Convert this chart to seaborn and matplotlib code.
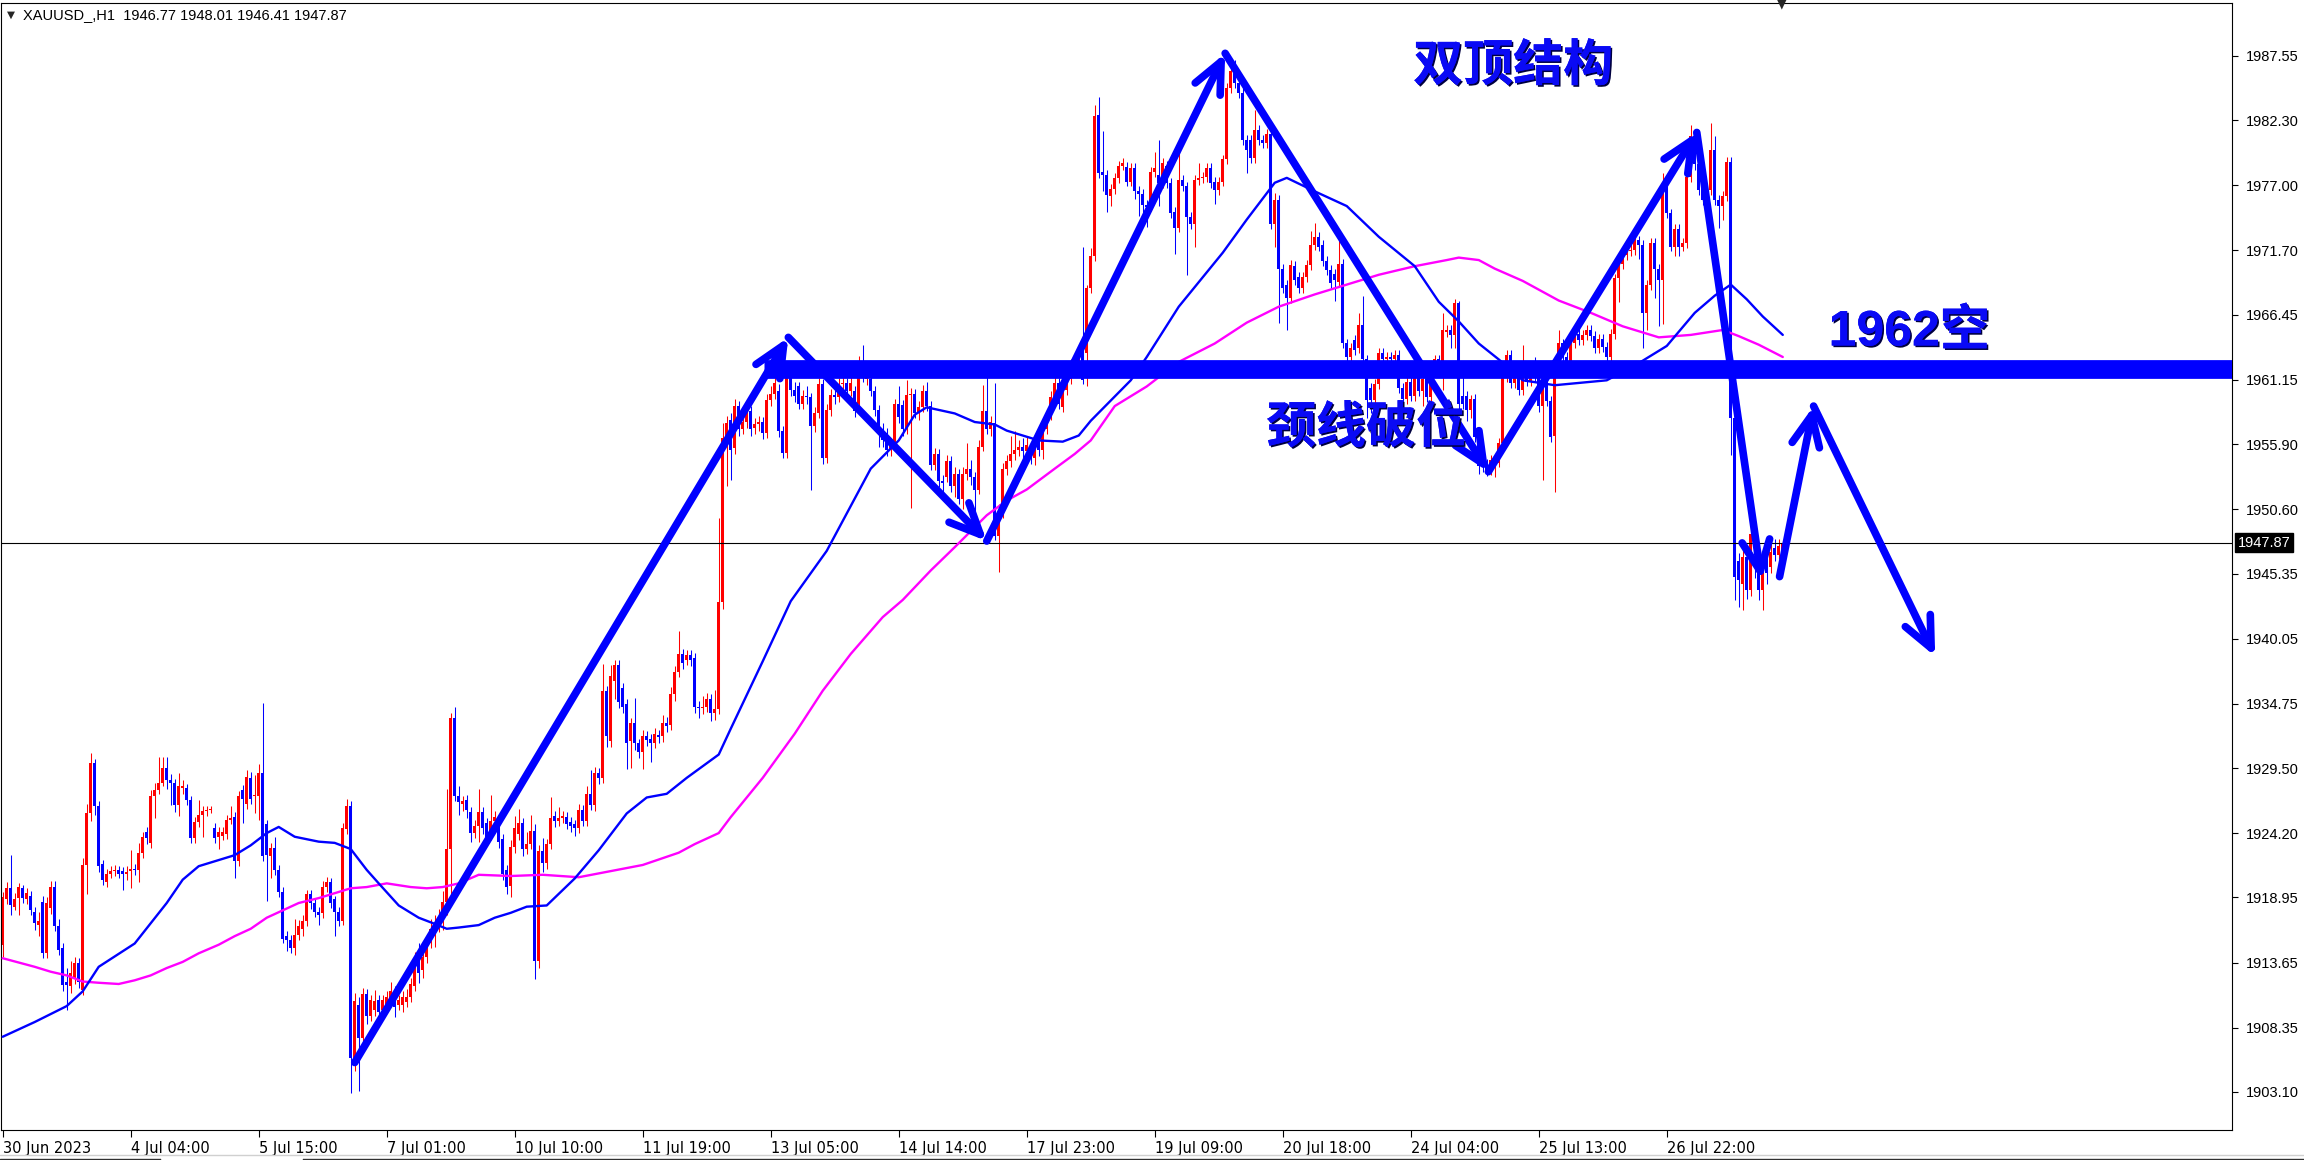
import numpy as np
import pandas as pd
import matplotlib
matplotlib.use("Agg")
from matplotlib import pyplot as plt
from matplotlib.lines import Line2D
import matplotlib.patheffects as pe
import seaborn as sns

sns.set_theme(style="white")
plt.rcParams["font.family"] = ["Liberation Sans", "DejaVu Sans", "Noto Sans CJK SC"]

# ---- XAUUSD H1 candles, bar index 0 = 30 Jun 2023 ----
opens = [
    1915.1, 1918.8, 1919.7, 1918.2, 1918.9, 1919.7, 1918.8, 1919.1, 1917.8, 1916.7,
    1918.6, 1914.4, 1918.1, 1919.8, 1916.6, 1914.8, 1912.1, 1911.7, 1912.4, 1913.6,
    1911.4, 1921.6, 1925.8, 1929.9, 1926.4, 1921.7, 1920.2, 1920.9, 1921.1, 1921.2,
    1921.1, 1920.9, 1921.1, 1921.3, 1921.2, 1922.6, 1924.3, 1923.4, 1927.2, 1927.7,
    1928.3, 1929.5, 1928.5, 1928.3, 1926.5, 1927.9, 1927.9, 1926.9, 1923.8, 1925.1,
    1925.7, 1926.0, 1926.1, 1924.6, 1923.9, 1924.0, 1924.1, 1925.3, 1925.5, 1921.9,
    1927.7, 1926.6, 1928.7, 1927.2, 1927.2, 1929.1, 1924.9, 1922.3, 1923.0, 1921.2,
    1919.4, 1915.8, 1915.5, 1914.8, 1915.9, 1916.4, 1917.0, 1919.2, 1918.5, 1917.8,
    1917.7, 1919.8, 1920.2, 1918.8, 1917.8, 1917.0, 1924.5, 1926.4, 1905.9, 1910.2,
    1907.5, 1911.1, 1909.3, 1909.8, 1910.6, 1909.8, 1910.0, 1910.6, 1911.3, 1910.2,
    1910.2, 1910.4, 1910.8, 1911.7, 1913.9, 1913.0, 1914.1, 1915.2, 1916.0, 1916.6,
    1917.5, 1918.6, 1922.9, 1933.6, 1927.2, 1926.6, 1926.9, 1925.9, 1924.2, 1924.8,
    1925.9, 1925.0, 1924.1, 1925.2, 1925.0, 1923.7, 1921.2, 1919.9, 1923.1, 1924.1,
    1925.0, 1922.9, 1923.3, 1924.4, 1913.8, 1922.7, 1921.8, 1923.3, 1925.6, 1925.2,
    1925.4, 1925.5, 1925.1, 1924.9, 1924.6, 1926.1, 1925.2, 1927.4, 1926.5, 1929.1,
    1928.7, 1935.8, 1931.7, 1936.6, 1937.9, 1936.0, 1934.7, 1931.7, 1933.2, 1931.5,
    1930.8, 1932.1, 1931.9, 1931.5, 1932.2, 1932.1, 1933.2, 1933.0, 1935.5, 1937.3,
    1938.8, 1938.3, 1938.7, 1938.5, 1934.5, 1934.4, 1934.5, 1935.1, 1934.0, 1934.3,
    1943.0, 1956.4, 1957.9, 1955.6, 1959.0, 1957.1, 1957.7, 1958.6, 1957.2, 1957.5,
    1957.7, 1956.8, 1959.5, 1960.0, 1960.2, 1957.0, 1955.2, 1961.5, 1960.3, 1960.6,
    1959.2, 1959.8, 1959.7, 1957.4, 1958.4, 1960.8, 1954.8, 1958.7, 1959.9, 1959.7,
    1960.8, 1960.9, 1960.2, 1960.2, 1959.2, 1962.7, 1961.2, 1961.2, 1960.2, 1958.7,
    1957.1, 1956.8, 1955.4, 1956.0, 1959.2, 1959.1, 1957.1, 1959.9, 1960.0, 1958.4,
    1958.9, 1960.2, 1959.0, 1954.2, 1955.1, 1952.9, 1953.2, 1954.5, 1952.5, 1953.5,
    1951.4, 1953.5, 1953.9, 1953.2, 1952.2, 1955.7, 1958.6, 1957.1, 1957.6, 1948.4,
    1950.4, 1953.9, 1954.5, 1955.1, 1955.4, 1955.7, 1955.3, 1955.5, 1954.8, 1956.8,
    1955.4, 1957.1, 1958.3, 1959.7, 1960.9, 1958.9, 1960.3, 1961.2, 1962.1, 1962.4,
    1964.4, 1963.3, 1968.6, 1971.2, 1982.7, 1978.1, 1977.8, 1976.1, 1976.7, 1977.6,
    1978.6, 1978.5, 1977.3, 1978.4, 1976.5, 1976.3, 1975.4, 1975.3, 1978.1, 1977.8,
    1977.2, 1978.6, 1977.2, 1974.8, 1973.5, 1977.4, 1976.9, 1974.4, 1973.8, 1977.4,
    1977.6, 1977.7, 1978.4, 1977.3, 1976.6, 1977.3, 1979.1, 1984.9, 1986.3, 1985.3,
    1984.5, 1980.7, 1980.7, 1979.2, 1981.5, 1980.7, 1980.4, 1981.2, 1973.8, 1975.8,
    1970.2, 1968.9, 1967.8, 1970.4, 1969.5, 1968.6, 1969.5, 1970.5, 1972.1, 1972.8,
    1972.1, 1970.8, 1970.1, 1969.8, 1969.1, 1970.6, 1964.1, 1963.0, 1964.4, 1963.7,
    1965.6, 1962.8, 1960.5, 1959.5, 1960.8, 1963.3, 1962.8, 1963.0, 1962.8, 1963.2,
    1960.5, 1959.6, 1961.0, 1959.8, 1961.5, 1960.2, 1961.2, 1959.7, 1962.0, 1962.8,
    1962.3, 1965.0, 1965.2, 1964.8, 1967.4, 1959.8, 1959.8, 1958.7, 1959.6, 1956.5,
    1954.5, 1954.3, 1953.8, 1954.0, 1954.4, 1956.0, 1961.4, 1963.2, 1960.9, 1961.7,
    1960.3, 1962.1, 1961.0, 1962.1, 1961.4, 1959.0, 1960.7, 1959.4, 1956.6, 1962.5,
    1964.1, 1963.0, 1962.5, 1964.1, 1964.9, 1964.4, 1964.8, 1965.2, 1964.7, 1963.7,
    1964.5, 1963.8, 1963.0, 1964.9, 1969.4, 1970.6, 1971.3, 1971.6, 1971.7, 1972.5,
    1972.1, 1966.6, 1968.9, 1972.3, 1970.2, 1969.3, 1977.0, 1974.7, 1972.0, 1973.4,
    1972.0, 1972.3, 1977.7, 1981.0, 1978.7, 1976.8, 1975.8, 1976.6, 1979.9, 1975.8,
    1975.3, 1976.1, 1978.9, 1958.0, 1946.4, 1944.5, 1946.7, 1944.0, 1946.7, 1945.9,
    1944.0, 1947.0, 1945.9, 1947.4, 1946.9, 1946.77,
]
highs = [
    1919.4, 1920.2, 1922.4, 1919.3, 1920.1, 1920.0, 1919.7, 1919.5, 1918.2, 1917.8,
    1919.1, 1919.0, 1920.3, 1920.3, 1917.2, 1915.2, 1913.2, 1913.8, 1914.1, 1914.0,
    1922.2, 1926.6, 1930.7, 1930.2, 1926.8, 1922.0, 1921.3, 1921.5, 1921.6, 1921.5,
    1921.4, 1921.5, 1922.8, 1921.7, 1923.4, 1924.3, 1924.7, 1927.7, 1928.3, 1930.4,
    1930.4, 1930.4, 1929.0, 1928.6, 1929.1, 1928.5, 1928.2, 1927.2, 1925.5, 1926.9,
    1926.4, 1926.4, 1926.4, 1925.0, 1924.7, 1924.7, 1925.7, 1926.4, 1925.9, 1927.6,
    1928.1, 1929.3, 1929.2, 1928.9, 1929.8, 1934.8, 1925.3, 1923.4, 1923.9, 1921.6,
    1919.8, 1916.2, 1915.9, 1917.2, 1917.1, 1917.5, 1919.6, 1919.6, 1918.9, 1918.2,
    1920.3, 1920.6, 1920.5, 1919.1, 1918.2, 1925.0, 1927.0, 1926.8, 1911.2, 1910.8,
    1911.6, 1911.5, 1911.0, 1911.4, 1911.0, 1911.0, 1911.3, 1912.1, 1911.7, 1911.0,
    1911.3, 1911.5, 1912.4, 1914.5, 1915.2, 1914.6, 1915.8, 1917.2, 1917.5, 1918.0,
    1919.5, 1927.8, 1934.0, 1934.5, 1928.0, 1927.2, 1927.3, 1926.3, 1925.3, 1927.8,
    1926.3, 1925.4, 1927.3, 1926.0, 1925.4, 1924.1, 1921.6, 1923.6, 1925.6, 1926.2,
    1925.4, 1924.3, 1925.7, 1924.9, 1923.2, 1923.8, 1923.7, 1927.1, 1926.0, 1926.3,
    1926.0, 1925.9, 1925.5, 1925.3, 1926.6, 1926.5, 1928.0, 1929.3, 1929.6, 1929.5,
    1938.0, 1936.2, 1937.9, 1938.3, 1938.3, 1936.4, 1935.1, 1933.6, 1935.2, 1931.9,
    1932.6, 1932.5, 1932.3, 1932.8, 1932.6, 1933.8, 1933.7, 1936.1, 1937.8, 1940.7,
    1939.2, 1939.1, 1939.1, 1938.9, 1935.0, 1935.4, 1935.6, 1935.5, 1935.9, 1949.9,
    1957.6, 1958.2, 1958.4, 1959.6, 1959.4, 1958.2, 1959.2, 1959.0, 1958.0, 1958.2,
    1958.1, 1960.0, 1960.6, 1963.2, 1960.8, 1957.4, 1962.0, 1961.9, 1961.0, 1961.0,
    1960.3, 1960.6, 1960.1, 1958.9, 1961.3, 1961.2, 1959.2, 1960.4, 1960.3, 1961.3,
    1961.6, 1961.3, 1961.4, 1960.6, 1963.1, 1964.0, 1962.0, 1961.6, 1960.6, 1959.1,
    1957.6, 1957.2, 1956.4, 1959.6, 1960.6, 1959.5, 1961.1, 1960.5, 1960.4, 1959.4,
    1960.7, 1961.0, 1959.4, 1955.6, 1955.5, 1953.4, 1955.0, 1954.9, 1954.0, 1953.9,
    1954.0, 1956.0, 1954.6, 1953.6, 1956.2, 1960.7, 1961.6, 1958.2, 1960.9, 1951.0,
    1954.4, 1955.0, 1956.6, 1957.0, 1956.2, 1956.4, 1956.6, 1956.1, 1955.8, 1957.2,
    1957.6, 1958.8, 1960.2, 1961.6, 1961.3, 1960.8, 1962.0, 1962.8, 1963.2, 1963.8,
    1972.0, 1968.9, 1971.9, 1983.5, 1984.2, 1981.4, 1978.2, 1977.1, 1978.0, 1979.0,
    1979.2, 1978.9, 1978.8, 1978.8, 1976.9, 1976.7, 1975.8, 1978.5, 1979.7, 1980.7,
    1979.2, 1979.0, 1977.6, 1975.2, 1979.8, 1977.8, 1977.3, 1974.8, 1977.8, 1978.8,
    1978.1, 1978.8, 1978.8, 1977.7, 1977.7, 1979.5, 1985.3, 1986.7, 1987.2, 1985.7,
    1984.9, 1981.1, 1981.1, 1983.1, 1981.9, 1981.1, 1981.6, 1981.6, 1976.4, 1976.2,
    1970.6, 1969.3, 1970.9, 1970.8, 1969.9, 1969.9, 1970.9, 1973.3, 1973.9, 1973.2,
    1972.5, 1971.2, 1970.5, 1970.2, 1972.5, 1971.0, 1964.5, 1964.1, 1964.8, 1966.6,
    1968.0, 1963.2, 1960.9, 1961.2, 1963.7, 1963.7, 1963.4, 1963.4, 1963.6, 1963.6,
    1960.9, 1961.4, 1961.4, 1961.9, 1961.9, 1961.6, 1961.6, 1962.4, 1963.2, 1963.2,
    1966.6, 1965.6, 1965.6, 1967.7, 1967.6, 1961.9, 1960.2, 1959.9, 1960.0, 1956.9,
    1955.5, 1954.7, 1955.0, 1954.8, 1956.4, 1961.8, 1963.6, 1963.6, 1962.1, 1962.1,
    1964.0, 1962.5, 1962.5, 1963.0, 1961.8, 1961.1, 1961.1, 1959.8, 1962.9, 1965.2,
    1964.5, 1963.4, 1964.5, 1965.3, 1965.3, 1965.2, 1965.6, 1965.6, 1965.1, 1964.9,
    1964.9, 1964.2, 1965.3, 1969.8, 1971.0, 1971.7, 1972.0, 1973.1, 1973.5, 1972.9,
    1972.5, 1969.3, 1972.7, 1972.7, 1970.6, 1978.0, 1977.4, 1975.1, 1973.8, 1973.8,
    1972.7, 1978.1, 1981.9, 1981.4, 1979.0, 1977.1, 1977.0, 1982.1, 1981.0, 1976.2,
    1976.5, 1979.3, 1979.3, 1958.4, 1947.0, 1947.5, 1947.2, 1949.6, 1947.5, 1946.2,
    1946.1, 1947.6, 1947.9, 1948.2, 1948.2, 1948.01,
]
lows = [
    1914.1, 1918.4, 1917.5, 1917.9, 1917.5, 1918.5, 1918.4, 1917.5, 1916.3, 1915.8,
    1914.0, 1914.0, 1917.6, 1916.2, 1914.3, 1911.3, 1909.8, 1911.2, 1911.9, 1911.6,
    1911.0, 1919.2, 1925.2, 1925.7, 1921.0, 1920.0, 1919.8, 1920.5, 1920.7, 1920.5,
    1919.6, 1920.4, 1919.7, 1920.8, 1920.2, 1922.2, 1923.3, 1923.0, 1925.4, 1927.4,
    1928.0, 1927.8, 1926.5, 1925.9, 1925.6, 1927.4, 1926.5, 1923.4, 1923.4, 1924.7,
    1923.9, 1925.6, 1925.8, 1923.4, 1922.9, 1923.6, 1923.7, 1924.9, 1920.5, 1921.5,
    1925.0, 1926.2, 1926.6, 1925.8, 1925.3, 1921.9, 1918.7, 1920.5, 1920.8, 1919.0,
    1915.2, 1914.6, 1914.4, 1914.3, 1915.5, 1915.8, 1916.6, 1918.0, 1917.4, 1916.7,
    1917.3, 1919.4, 1918.1, 1915.8, 1916.6, 1916.7, 1924.1, 1903.0, 1904.8, 1903.2,
    1906.8, 1908.6, 1908.9, 1909.3, 1909.2, 1909.4, 1909.6, 1910.2, 1909.2, 1909.8,
    1909.6, 1910.0, 1910.4, 1911.3, 1912.0, 1912.4, 1913.6, 1914.8, 1914.9, 1916.1,
    1916.3, 1917.5, 1918.5, 1926.8, 1925.7, 1926.0, 1925.4, 1923.5, 1923.8, 1923.5,
    1924.1, 1923.3, 1923.6, 1924.8, 1923.0, 1920.4, 1919.2, 1919.0, 1922.6, 1923.6,
    1922.3, 1922.5, 1922.9, 1912.3, 1913.2, 1921.0, 1921.3, 1922.9, 1924.7, 1924.8,
    1925.0, 1924.5, 1924.3, 1924.0, 1924.2, 1924.8, 1924.8, 1926.1, 1926.0, 1928.2,
    1928.3, 1931.2, 1931.2, 1935.1, 1934.4, 1934.0, 1929.4, 1929.5, 1931.0, 1930.3,
    1929.4, 1931.3, 1930.0, 1931.1, 1931.5, 1931.6, 1932.4, 1932.6, 1935.0, 1936.9,
    1937.6, 1937.9, 1937.8, 1934.0, 1933.6, 1933.9, 1934.1, 1933.3, 1933.4, 1933.9,
    1942.5, 1952.5, 1953.0, 1955.1, 1956.6, 1956.7, 1957.2, 1956.6, 1956.7, 1957.0,
    1956.3, 1956.4, 1959.0, 1959.6, 1956.5, 1954.8, 1954.8, 1959.8, 1959.3, 1958.8,
    1958.8, 1959.2, 1952.2, 1956.9, 1958.0, 1954.3, 1954.4, 1958.2, 1959.2, 1959.3,
    1960.3, 1959.8, 1959.8, 1958.1, 1958.8, 1961.0, 1960.7, 1959.8, 1958.2, 1955.7,
    1955.7, 1954.9, 1954.9, 1955.5, 1957.6, 1956.6, 1956.7, 1950.7, 1958.0, 1957.9,
    1958.5, 1958.6, 1953.8, 1953.8, 1952.4, 1952.0, 1952.8, 1952.0, 1951.6, 1951.0,
    1950.6, 1953.0, 1952.6, 1950.0, 1951.8, 1955.3, 1956.7, 1956.6, 1948.1, 1945.5,
    1949.9, 1953.4, 1954.0, 1954.6, 1954.9, 1954.8, 1954.8, 1954.3, 1954.2, 1954.9,
    1954.7, 1956.7, 1957.9, 1959.3, 1958.8, 1958.5, 1959.9, 1960.8, 1961.7, 1962.0,
    1960.8, 1960.6, 1968.2, 1970.8, 1977.6, 1976.5, 1974.8, 1975.3, 1976.3, 1977.2,
    1978.2, 1976.9, 1976.9, 1975.9, 1974.5, 1974.0, 1973.6, 1974.9, 1977.7, 1975.3,
    1976.8, 1976.8, 1974.3, 1971.4, 1973.2, 1976.5, 1969.7, 1973.4, 1972.0, 1977.0,
    1977.2, 1977.3, 1976.8, 1975.5, 1976.2, 1976.9, 1978.7, 1984.5, 1984.9, 1984.1,
    1980.3, 1978.0, 1978.8, 1978.8, 1980.3, 1980.0, 1980.0, 1973.4, 1972.0, 1965.8,
    1968.2, 1965.2, 1967.4, 1968.9, 1968.2, 1968.2, 1969.1, 1970.1, 1971.7, 1971.6,
    1970.4, 1969.7, 1968.6, 1967.6, 1968.7, 1963.7, 1962.6, 1962.6, 1963.2, 1963.3,
    1962.4, 1958.0, 1958.4, 1959.1, 1960.4, 1962.4, 1962.4, 1962.4, 1962.4, 1960.1,
    1958.9, 1959.2, 1959.4, 1959.4, 1959.8, 1959.0, 1959.3, 1959.3, 1961.6, 1961.9,
    1960.3, 1964.6, 1963.7, 1963.7, 1958.8, 1958.8, 1957.8, 1958.0, 1956.1, 1953.5,
    1953.6, 1953.3, 1953.4, 1953.2, 1954.0, 1955.6, 1961.0, 1960.5, 1960.5, 1959.9,
    1959.9, 1960.6, 1960.6, 1961.0, 1958.5, 1953.0, 1959.0, 1956.1, 1952.0, 1962.1,
    1962.6, 1962.1, 1962.1, 1963.7, 1964.0, 1964.0, 1964.4, 1964.3, 1963.3, 1963.3,
    1963.4, 1962.6, 1962.6, 1964.5, 1967.5, 1970.2, 1970.9, 1971.2, 1971.3, 1971.0,
    1963.7, 1965.2, 1968.5, 1967.8, 1965.5, 1965.7, 1974.3, 1971.6, 1971.2, 1971.2,
    1971.6, 1971.9, 1977.3, 1978.2, 1976.2, 1975.4, 1975.4, 1976.2, 1975.4, 1973.5,
    1974.2, 1975.7, 1955.0, 1943.2, 1942.6, 1942.4, 1943.3, 1943.5, 1945.0, 1943.2,
    1942.4, 1944.5, 1945.4, 1946.4, 1946.5, 1946.41,
]
closes = [
    1919.0, 1919.7, 1918.3, 1918.8, 1919.8, 1918.9, 1919.3, 1917.9, 1916.9, 1917.0,
    1914.4, 1918.5, 1919.8, 1916.6, 1914.7, 1911.8, 1911.8, 1912.8, 1913.6, 1912.1,
    1921.6, 1925.8, 1929.9, 1926.4, 1921.5, 1920.4, 1920.9, 1921.1, 1921.2, 1920.9,
    1920.9, 1921.0, 1921.3, 1921.2, 1922.6, 1923.9, 1923.8, 1927.2, 1927.7, 1928.3,
    1929.5, 1928.5, 1928.3, 1926.5, 1928.0, 1928.0, 1926.9, 1923.8, 1925.1, 1925.7,
    1926.0, 1926.1, 1926.2, 1923.8, 1924.3, 1924.3, 1925.3, 1925.4, 1921.9, 1927.2,
    1927.0, 1928.8, 1927.0, 1927.3, 1929.1, 1922.3, 1922.4, 1923.0, 1921.2, 1919.4,
    1915.6, 1915.5, 1914.8, 1915.9, 1916.6, 1917.0, 1919.2, 1918.5, 1917.8, 1917.5,
    1919.8, 1920.2, 1918.5, 1917.8, 1917.0, 1924.6, 1926.4, 1905.9, 1910.5, 1907.5,
    1911.1, 1909.3, 1910.6, 1910.5, 1909.6, 1910.6, 1910.8, 1911.3, 1910.0, 1910.6,
    1910.8, 1910.8, 1911.9, 1913.9, 1912.8, 1914.1, 1914.9, 1916.4, 1916.8, 1917.3,
    1918.6, 1922.9, 1933.6, 1927.2, 1926.7, 1926.8, 1926.1, 1924.2, 1924.8, 1925.9,
    1924.6, 1923.9, 1925.2, 1925.5, 1923.5, 1920.9, 1919.8, 1923.1, 1924.6, 1925.0,
    1922.9, 1923.3, 1924.4, 1913.8, 1922.7, 1921.8, 1923.3, 1925.4, 1925.2, 1925.4,
    1925.6, 1924.9, 1924.8, 1924.6, 1926.1, 1925.2, 1927.4, 1926.5, 1929.1, 1928.7,
    1935.8, 1932.1, 1937.0, 1937.9, 1934.9, 1934.5, 1931.5, 1933.2, 1931.5, 1930.8,
    1932.1, 1931.8, 1931.5, 1932.3, 1932.0, 1933.2, 1932.9, 1935.5, 1937.3, 1938.8,
    1938.1, 1938.7, 1938.3, 1934.5, 1934.4, 1934.5, 1935.1, 1934.0, 1934.3, 1943.0,
    1956.4, 1957.6, 1955.4, 1959.0, 1957.1, 1957.7, 1958.6, 1957.1, 1957.5, 1957.7,
    1956.8, 1959.5, 1960.0, 1960.9, 1957.0, 1955.2, 1961.5, 1960.3, 1959.8, 1959.2,
    1959.8, 1959.7, 1957.4, 1958.4, 1960.8, 1954.8, 1958.7, 1959.9, 1959.7, 1960.8,
    1960.9, 1960.2, 1960.9, 1958.6, 1962.7, 1961.5, 1961.5, 1960.2, 1958.7, 1957.1,
    1956.2, 1955.4, 1956.0, 1959.2, 1958.1, 1957.1, 1959.9, 1960.0, 1958.4, 1958.9,
    1960.2, 1959.0, 1954.2, 1955.1, 1952.9, 1952.7, 1954.5, 1952.5, 1953.5, 1951.4,
    1953.5, 1953.9, 1953.2, 1952.2, 1955.7, 1958.6, 1957.1, 1957.7, 1948.4, 1950.4,
    1953.9, 1954.5, 1955.1, 1955.4, 1955.7, 1955.3, 1955.8, 1954.8, 1955.3, 1955.4,
    1957.1, 1958.3, 1959.7, 1960.9, 1959.2, 1960.3, 1961.5, 1962.1, 1962.7, 1963.2,
    1961.1, 1968.6, 1971.2, 1982.6, 1978.0, 1977.8, 1976.2, 1976.7, 1977.6, 1978.6,
    1978.8, 1977.3, 1978.4, 1976.5, 1976.3, 1975.4, 1975.2, 1978.1, 1978.4, 1977.2,
    1978.8, 1977.2, 1974.7, 1973.5, 1977.4, 1976.9, 1974.4, 1973.8, 1977.4, 1977.6,
    1977.7, 1978.4, 1977.2, 1976.6, 1977.3, 1979.1, 1984.9, 1986.3, 1985.3, 1984.5,
    1980.7, 1979.9, 1979.2, 1981.5, 1980.7, 1980.4, 1981.2, 1973.8, 1975.8, 1970.2,
    1968.6, 1967.8, 1970.5, 1969.3, 1968.6, 1969.5, 1970.5, 1972.1, 1972.8, 1972.0,
    1970.8, 1970.1, 1969.0, 1969.3, 1970.6, 1964.1, 1963.0, 1963.7, 1963.6, 1965.6,
    1962.8, 1959.5, 1959.5, 1960.8, 1963.3, 1962.8, 1963.0, 1962.8, 1963.2, 1960.5,
    1959.6, 1961.0, 1959.8, 1961.5, 1960.2, 1961.2, 1959.7, 1962.0, 1962.8, 1962.3,
    1965.2, 1965.2, 1964.8, 1967.4, 1959.2, 1959.2, 1958.7, 1959.6, 1956.5, 1954.1,
    1954.0, 1953.8, 1954.6, 1954.4, 1956.0, 1961.4, 1963.2, 1960.9, 1961.7, 1960.3,
    1962.1, 1961.0, 1962.1, 1961.4, 1959.0, 1960.7, 1959.4, 1956.5, 1962.5, 1964.1,
    1963.0, 1962.5, 1964.1, 1964.9, 1964.4, 1964.8, 1965.2, 1964.7, 1963.7, 1964.5,
    1963.8, 1963.0, 1964.9, 1969.4, 1970.6, 1971.3, 1971.6, 1971.7, 1972.5, 1972.1,
    1966.6, 1968.9, 1972.3, 1970.2, 1969.3, 1977.0, 1974.7, 1972.0, 1973.4, 1972.0,
    1972.3, 1977.7, 1981.0, 1978.7, 1976.6, 1975.8, 1976.6, 1979.9, 1975.8, 1975.3,
    1976.1, 1978.9, 1958.0, 1945.1, 1944.8, 1946.7, 1944.0, 1948.6, 1945.9, 1944.0,
    1945.4, 1945.4, 1947.1, 1946.9, 1947.6, 1947.87,
]

# moving averages, read at knots along each curve
ma_fast_bar = [0, 8, 16, 20, 24, 33, 41, 45, 49, 54, 58, 62, 66, 69, 73, 79, 83, 87, 91, 94,
               99, 104, 108, 111, 114, 119, 123, 127, 131, 136, 143, 149, 156, 161, 166, 171,
               179, 182, 190, 197, 206, 217, 224, 228, 231, 238, 243, 248, 251, 254, 259, 265,
               269, 272, 282, 286, 294, 305, 311, 318, 321, 328, 336, 344, 353, 359, 364, 369,
               374, 380, 388, 401, 409, 416, 423, 428, 432, 436, 440, 445]
ma_fast_val = [1907.6, 1908.8, 1910.1, 1911.3, 1913.3, 1915.2, 1918.5, 1920.4, 1921.5, 1922.0,
               1922.4, 1923.2, 1924.2, 1924.7, 1923.9, 1923.5, 1923.4, 1922.9, 1921.2, 1920.1,
               1918.3, 1917.3, 1916.8, 1916.4, 1916.5, 1916.7, 1917.3, 1917.7, 1918.2, 1918.3,
               1920.5, 1922.8, 1925.8, 1927.1, 1927.4, 1928.7, 1930.6, 1932.7, 1938.2, 1943.1,
               1947.2, 1953.9, 1956.2, 1958.3, 1958.9, 1958.4, 1957.7, 1957.5, 1957.0, 1956.7,
               1956.2, 1956.1, 1956.6, 1957.8, 1961.1, 1963.0, 1967.1, 1971.5, 1974.2, 1977.2,
               1977.6, 1976.5, 1975.3, 1972.8, 1970.4, 1967.5, 1965.9, 1964.1, 1962.8, 1961.1,
               1960.7, 1961.1, 1962.5, 1963.9, 1966.6, 1968.0, 1968.9, 1967.7, 1966.3, 1964.8]
ma_slow_bar = [0, 8, 12, 16, 20, 24, 29, 33, 37, 41, 45, 49, 54, 58, 62, 66, 70, 74, 79, 83,
               87, 91, 96, 102, 106, 110, 114, 119, 127, 135, 144, 152, 160, 169, 173, 179,
               182, 190, 198, 205, 212, 220, 225, 232, 238, 246, 251, 256, 263, 268, 272, 278,
               286, 294, 303, 311, 319, 328, 336, 344, 353, 361, 364, 369, 373, 380, 389, 397,
               405, 414, 422, 430, 434, 439, 445]
ma_slow_val = [1914.0, 1913.3, 1912.9, 1912.6, 1912.1, 1912.0, 1911.9, 1912.2, 1912.6, 1913.2,
               1913.7, 1914.4, 1915.1, 1915.8, 1916.4, 1917.3, 1917.9, 1918.5, 1918.9, 1919.3,
               1919.7, 1919.8, 1920.1, 1919.8, 1919.7, 1919.8, 1920.1, 1920.8, 1920.7, 1920.8,
               1920.6, 1921.1, 1921.6, 1922.6, 1923.3, 1924.2, 1925.5, 1928.7, 1932.3, 1935.8,
               1938.8, 1941.8, 1943.2, 1945.6, 1947.5, 1950.1, 1951.3, 1952.2, 1953.9, 1955.1,
               1956.2, 1959.0, 1960.6, 1962.6, 1964.1, 1965.8, 1967.1, 1968.1, 1968.9, 1969.7,
               1970.4, 1970.9, 1971.1, 1970.9, 1970.2, 1969.2, 1967.6, 1966.6, 1965.5, 1964.6,
               1964.8, 1965.2, 1964.7, 1964.0, 1963.0]

# hand-drawn arrows (bar index, price)
arrow_from_bar = [88.0, 196.4, 246.0, 305.6, 371.4, 423.5, 444.2, 452.7]
arrow_from_px = [1905.5, 1964.6, 1948.0, 1987.75, 1953.65, 1981.3, 1945.1, 1959.0]
arrow_to_bar = [196.4, 246.0, 305.6, 371.4, 423.5, 439.7, 452.7, 483.1]
arrow_to_px = [1964.6, 1948.0, 1987.75, 1953.65, 1981.3, 1944.8, 1959.0, 1938.6]
neckline_px = 1962.0
neckline_start = 190.3
last_price = 1947.87

xtick_bars = [0, 32, 64, 96, 128, 160, 192, 224, 256, 288, 320, 352, 384, 416]
xtick_labels = ["30 Jun 2023", "4 Jul 04:00", "5 Jul 15:00", "7 Jul 01:00", "10 Jul 10:00",
                "11 Jul 19:00", "13 Jul 05:00", "14 Jul 14:00", "17 Jul 23:00", "19 Jul 09:00",
                "20 Jul 18:00", "24 Jul 04:00", "25 Jul 13:00", "26 Jul 22:00"]
ytick_vals = [1987.55, 1982.30, 1977.00, 1971.70, 1966.45, 1961.15, 1955.90, 1950.60, 1945.35,
              1940.05, 1934.75, 1929.50, 1924.20, 1918.95, 1913.65, 1908.35, 1903.10]

W, H = 2304, 1160
BLUE = "#0000ff"
RED = "#ff0000"
MAGENTA = "#ff00ff"


def fx(px):
    return px / W


def fy(py):
    return 1 - py / H


fig = plt.figure(figsize=(W / 100, H / 100), dpi=100)
fig.patch.set_facecolor("white")
ax = fig.add_axes([fx(1), fy(1130), fx(2232) - fx(1), fy(3) - fy(1130)])
ax.set_facecolor("white")

# candles
o = np.array(opens)
h = np.array(highs)
l = np.array(lows)
c = np.array(closes)
x = np.arange(len(c))
cols = np.where(c >= o, RED, BLUE)
ax.vlines(x, l, h, colors=cols, lw=0.75, zorder=2)
ax.bar(x, np.maximum(np.abs(c - o), 0.07), bottom=np.minimum(o, c), width=0.78,
       color=cols, linewidth=0, zorder=2)

# moving averages
df_fast = pd.DataFrame({"bar": ma_fast_bar, "ma": ma_fast_val})
df_slow = pd.DataFrame({"bar": ma_slow_bar, "ma": ma_slow_val})
sns.lineplot(data=df_slow, x="bar", y="ma", ax=ax, color=MAGENTA, linewidth=1.7, zorder=3)
sns.lineplot(data=df_fast, x="bar", y="ma", ax=ax, color=BLUE, linewidth=1.7, zorder=3)

# current price line
ax.axhline(last_price, color="black", lw=0.8, zorder=2.5)

# neckline and arrows
ax.hlines(neckline_px, neckline_start, 600, colors=BLUE, lw=13.5, zorder=4)
for xa, ya, xb, yb in zip(arrow_from_bar, arrow_from_px, arrow_to_bar, arrow_to_px):
    ax.annotate("", xy=(xb, yb), xytext=(xa, ya),
                arrowprops=dict(arrowstyle="->,head_length=1.1,head_width=0.5",
                                color=BLUE, lw=5.5, shrinkA=0, shrinkB=0,
                                mutation_scale=20),
                zorder=5)

shadow = [pe.withSimplePatchShadow(offset=(1.2, -1.2), shadow_rgbFace="#000040", alpha=1.0),
          pe.Normal()]
ax.text(377.6, 1986.7, "双顶结构", fontsize=36, fontweight="bold", color="#0a0af5",
        family=["Noto Sans CJK SC"], ha="center", va="center", zorder=6, path_effects=shadow)
ax.text(340.8, 1957.2, "颈线破位", fontsize=36, fontweight="bold", color="#0a0af5",
        family=["Noto Sans CJK SC"], ha="center", va="center", zorder=6, path_effects=shadow)
ax.text(476.6, 1965.0, "1962空", fontsize=36, fontweight="bold", color="#0a0af5",
        family=["Liberation Sans", "Noto Sans CJK SC"], ha="center", va="center", zorder=6,
        path_effects=shadow)

# axes
ax.set_xlim(-0.425, 557.3)
ax.set_ylim(1900.0, 1991.85)
ax.yaxis.tick_right()
ax.set_yticks(ytick_vals)
ax.set_yticklabels([f"{v:.2f}" for v in ytick_vals])
ax.tick_params(axis="y", direction="out", length=4, width=0.8, pad=6, labelsize=10.5,
               colors="black", right=True, left=False)
ax.set_xticks(xtick_bars)
ax.set_xticklabels(xtick_labels, ha="left")
for lab in ax.get_xticklabels():
    lab.set_family(["Liberation Sans Narrow", "DejaVu Sans"])
ax.tick_params(axis="x", direction="out", length=5, width=0.8, pad=3, labelsize=10.5,
               colors="black", bottom=True)
ax.set_xlabel("")
ax.set_ylabel("")
ax.grid(False)
for sp in ax.spines.values():
    sp.set_color("black")
    sp.set_linewidth(0.8)
    sp.set_visible(True)

ax.annotate(f"{last_price:.2f}", xy=(1, last_price), xycoords=ax.get_yaxis_transform(),
            xytext=(4, 0), textcoords="offset points", ha="left", va="center",
            fontsize=10.5, color="white", annotation_clip=False,
            bbox=dict(boxstyle="square,pad=0.18", fc="black", ec="black"))

# header and chart-shift marker
fig.text(fx(7), fy(15), "\u25bc", fontsize=7.5, family="DejaVu Sans", ha="left", va="center")
fig.text(fx(23), fy(15), "XAUUSD_,H1  1946.77 1948.01 1946.41 1947.87", fontsize=10.5,
         ha="left", va="center", color="black")
fig.text(fx(1782), fy(4), "\u25bc", fontsize=9, family="DejaVu Sans", ha="center", va="center")

# bottom tab strip
fig.add_artist(Line2D([0, 1], [fy(1155), fy(1155)], transform=fig.transFigure,
                      color="#d0d0d0", lw=1))
fig.add_artist(Line2D([0, fx(160)], [fy(1158.5), fy(1158.5)], transform=fig.transFigure,
                      color="#303030", lw=1))
fig.add_artist(Line2D([fx(303), 1], [fy(1158.5), fy(1158.5)], transform=fig.transFigure,
                      color="#303030", lw=1))
for px in (160, 303):
    fig.add_artist(Line2D([fx(px), fx(px)], [fy(1158.5), 0], transform=fig.transFigure,
                          color="#303030", lw=1))

fig.savefig("out.png", dpi=100, facecolor="white")
